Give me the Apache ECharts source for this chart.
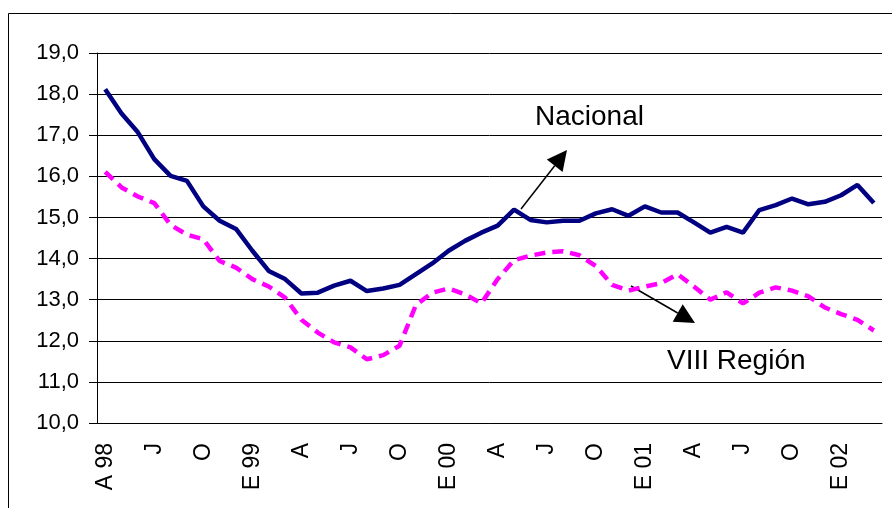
<!DOCTYPE html>
<html>
<head>
<meta charset="utf-8">
<script src="https://cdn.jsdelivr.net/npm/echarts@6/dist/echarts.min.js"></script>
<style>
html, body { margin: 0; padding: 0; background: #fff; }
#chart { width: 892px; height: 508px; }
</style>
</head>
<body>
<div id="chart"></div>
<script>
// meses abril 1998 - marzo 2002
const months = [
  'A 98', 'M', 'J', 'J', 'A', 'S', 'O', 'N', 'D',
  'E 99', 'F', 'M', 'A', 'M', 'J', 'J', 'A', 'S', 'O', 'N', 'D',
  'E 00', 'F', 'M', 'A', 'M', 'J', 'J', 'A', 'S', 'O', 'N', 'D',
  'E 01', 'F', 'M', 'A', 'M', 'J', 'J', 'A', 'S', 'O', 'N', 'D',
  'E 02', 'F', 'M'
]

const nacional = [
  18.12, 17.53, 17.07, 16.42, 16.01, 15.89, 15.27, 14.92,
  14.72, 14.19, 13.70, 13.50, 13.15, 13.17, 13.34, 13.46,
  13.21, 13.27, 13.36, 13.62, 13.88, 14.19, 14.43, 14.63,
  14.80, 15.19, 14.94, 14.88, 14.92, 14.92, 15.10, 15.20,
  15.04, 15.27, 15.12, 15.12, 14.88, 14.63, 14.77, 14.63,
  15.18, 15.30, 15.46, 15.32, 15.38, 15.54, 15.79, 15.35
]

const region8 = [
  16.11, 15.73, 15.51, 15.35, 14.82, 14.58, 14.47, 13.94,
  13.78, 13.50, 13.32, 13.05, 12.51, 12.20, 11.96, 11.84,
  11.55, 11.65, 11.88, 12.87, 13.17, 13.27, 13.13, 12.91,
  13.50, 13.96, 14.07, 14.15, 14.18, 14.08, 13.82, 13.36,
  13.22, 13.32, 13.40, 13.62, 13.32, 13.00, 13.18, 12.91,
  13.17, 13.30, 13.22, 13.08, 12.81, 12.65, 12.51, 12.25
]

const FONT = '"Liberation Sans", Arial, sans-serif'

// flecha: linea + punta triangular
function arrow(x1, y1, x2, y2, headLen, headW) {
  const dx = x2 - x1, dy = y2 - y1
  const len = Math.sqrt(dx * dx + dy * dy)
  const ux = dx / len, uy = dy / len
  const bx = x2 - ux * headLen, by = y2 - uy * headLen
  const px = -uy * headW / 2, py = ux * headW / 2
  return [
    { type: 'line', shape: { x1, y1, x2: bx, y2: by }, style: { stroke: '#000', lineWidth: 1.5 } },
    { type: 'polygon', shape: { points: [[x2, y2], [bx + px, by + py], [bx - px, by - py]] }, style: { fill: '#000' } }
  ]
}

const chart = echarts.init(document.getElementById('chart'))

chart.setOption({
  animation: false,
  backgroundColor: '#fff',
  grid: { left: 97, right: 10, top: 53, bottom: 85 },
  xAxis: {
    type: 'category',
    data: months,
    boundaryGap: true,
    axisLine: { lineStyle: { color: '#000', width: 1 } },
    axisTick: { interval: 0, length: 8, lineStyle: { color: '#000' } },
    axisLabel: {
      interval: 2,
      rotate: 90,
      margin: 20,
      color: '#000',
      fontSize: 23,
      fontFamily: FONT
    },
    splitLine: { show: false }
  },
  yAxis: {
    type: 'value',
    min: 10,
    max: 19,
    interval: 1,
    axisLine: { show: true, lineStyle: { color: '#000', width: 1 } },
    axisTick: { show: true, length: 8, lineStyle: { color: '#000' } },
    axisLabel: {
      margin: 18,
      color: '#000',
      fontSize: 22,
      fontFamily: FONT,
      formatter: v => v.toFixed(1).replace('.', ',')
    },
    splitLine: { lineStyle: { color: '#000', width: 1 } }
  },
  series: [
    {
      name: 'Nacional',
      type: 'line',
      data: nacional,
      symbol: 'none',
      lineStyle: { color: '#000080', width: 4.5 },
      itemStyle: { color: '#000080' }
    },
    {
      name: 'VIII Región',
      type: 'line',
      data: region8,
      symbol: 'none',
      lineStyle: { color: '#ff00ff', width: 4.5, type: [11, 7] },
      itemStyle: { color: '#ff00ff' }
    }
  ],
  graphic: [
    { type: 'rect', shape: { x: 8.5, y: 13.5, width: 900, height: 520 }, style: { fill: null, stroke: '#000', lineWidth: 1 }, z: -1 },
    { type: 'text', style: { text: 'Nacional', x: 535, y: 117, font: '28px ' + FONT, fill: '#000', textVerticalAlign: 'middle' } },
    { type: 'text', style: { text: 'VIII Región', x: 667, y: 361, font: '28px ' + FONT, fill: '#000', textVerticalAlign: 'middle' } },
    ...arrow(521, 209, 567, 150, 20, 20),
    ...arrow(631, 286, 695, 323, 20, 20)
  ]
})
</script>
</body>
</html>
